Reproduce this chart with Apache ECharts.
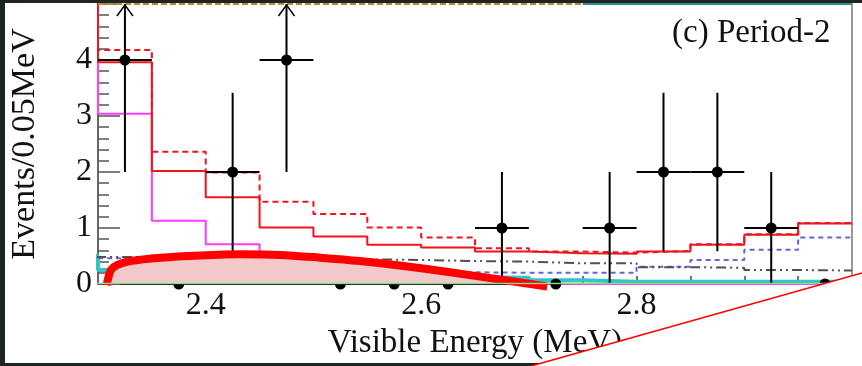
<!DOCTYPE html>
<html>
<head>
<meta charset="utf-8">
<script src="https://cdn.jsdelivr.net/npm/echarts@6/dist/echarts.min.js"></script>
<style>
  html, body { margin: 0; padding: 0; background: #1e2325; }
  #chart { width: 862px; height: 366px; }
</style>
</head>
<body>
<div id="chart"></div>
<script>
// Histogram bins: lower edges (MeV), 0.05 MeV wide
const binLow = [2.30, 2.35, 2.40, 2.45, 2.50, 2.55, 2.60, 2.65, 2.70, 2.75, 2.80, 2.85, 2.90, 2.95];
const binEnd = 3.00;
const binBelow = 2.25;   // the bin just left of the frame

// Model components (events / 0.05 MeV)
const totalFit   = [3.96, 2.02, 1.55, 1.01, 0.85, 0.70, 0.65, 0.58, 0.55, 0.54, 0.58, 0.70, 0.88, 1.08];
const totalLimit = [4.18, 2.36, 1.99, 1.47, 1.25, 1.01, 0.83, 0.64, 0.58, 0.56, 0.59, 0.71, 0.89, 1.09];
const xeTwoNu    = [3.04, 1.13, 0.71, 0.40, 0.18, 0.07, 0.03, 0.01, 0.00, 0.00, 0.00, 0.00, 0.00, 0.00];
const carbon10   = [0.46, 0.38, 0.33, 0.29, 0.26, 0.23, 0.21, 0.20, 0.20, 0.20, 0.31, 0.43, 0.61, 0.83];
const external   = [0.48, 0.47, 0.46, 0.45, 0.44, 0.43, 0.41, 0.40, 0.37, 0.37, 0.30, 0.29, 0.25, 0.24];
const bismuth    = [0.25, 0.22, 0.19, 0.17, 0.15, 0.14, 0.12, 0.11, 0.065, 0.04, 0.04, 0.04, 0.04, 0.04];
const minorBkg   = [0.01, 0.01, 0.01, 0.01, 0.01, 0.01, 0.01, 0.01, 0.01, 0.01, 0.01, 0.01, 0.01, 0.01];
// value of each component in the bin below the frame
const belowFrame = { totalFit: 9, totalLimit: 9, xeTwoNu: 8, carbon10: 0.46, external: 0.48, bismuth: 0.5, minorBkg: 0.01 };

// Observed events per bin (bin centres)
const dataCenters = [2.325, 2.375, 2.425, 2.475, 2.525, 2.575, 2.625, 2.675, 2.725, 2.775, 2.825, 2.875, 2.925, 2.975];
const dataCounts  = [4, 0, 2, 4, 0, 0, 0, 1, 0, 1, 2, 2, 1, 0];

// Highlight around the region of interest (energy, events)
const roiCurve = [
  [2.308, -0.02], [2.310, 0.14], [2.312, 0.25], [2.318, 0.34], [2.330, 0.41],
  [2.358, 0.47], [2.395, 0.51], [2.432, 0.53], [2.469, 0.52], [2.506, 0.47],
  [2.543, 0.41], [2.580, 0.33], [2.627, 0.21], [2.673, 0.08], [2.717, -0.045]
];

// Axis ticks and labels
const xLabelValues = [2.4, 2.6, 2.8];
const xTickValues = [2.35, 2.40, 2.45, 2.50, 2.55, 2.60, 2.65, 2.70, 2.75, 2.80, 2.85, 2.90, 2.95];
const yMin = 0, yMax = 5, yStep = 1;

const SERIF = '"Liberation Serif", "DejaVu Serif", serif';

// step-histogram points: value at each lower edge, last value repeated at the end
function stepData(values, below) {
  const pts = [[binBelow, below]];
  binLow.forEach((x, i) => pts.push([x, values[i]]));
  pts.push([binEnd, values[values.length - 1]]);
  return pts;
}

function hist(name, values, below, color, width, type, z) {
  return {
    name, type: 'line', step: 'end', data: stepData(values, below),
    symbol: 'none', clip: true, z: z || 3,
    lineStyle: { color, width, type: type || 'solid' },
    emphasis: { disabled: true }, silent: true
  };
}

const chart = echarts.init(document.getElementById('chart'), null, { renderer: 'canvas' });

const option = {
  backgroundColor: '#1e2325',
  animation: false,
  grid: { left: 98, right: 10, top: 4, bottom: 82, containLabel: false },
  title: {
    text: '(c) Period-2', left: 667, top: 12,
    textStyle: { fontFamily: SERIF, fontSize: 33, fontWeight: 'normal', color: '#111' }
  },
  xAxis: {
    type: 'value', min: 2.3, max: binEnd,
    name: 'Visible Energy (MeV)', nameLocation: 'middle', nameGap: 41,
    nameTextStyle: { fontFamily: SERIF, fontSize: 33, color: '#111' },
    axisLine: { lineStyle: { color: '#111', width: 1 } },
    axisTick: { inside: true, length: 8, customValues: xTickValues, lineStyle: { color: '#444', width: 1.5 } },
    axisLabel: { customValues: xLabelValues, fontFamily: SERIF, fontSize: 32, color: '#111', margin: 6,
                 formatter: v => v.toFixed(1) },
    splitLine: { show: false }
  },
  yAxis: [{
    type: 'value', min: yMin, max: yMax, interval: yStep,
    name: 'Events/0.05MeV', nameLocation: 'middle', nameGap: 56, nameRotate: 90,
    nameTextStyle: { fontFamily: SERIF, fontSize: 34, color: '#111' },
    axisLine: { show: true, lineStyle: { color: '#333', width: 1.5 } },
    axisTick: { inside: true, length: 22, lineStyle: { color: '#555', width: 1.5 } },
    minorTick: { show: true, splitNumber: 5, length: 11, lineStyle: { color: '#555', width: 1.5 } },
    axisLabel: { fontFamily: SERIF, fontSize: 32, color: '#111', margin: 6, showMaxLabel: false },
    splitLine: { show: false }, minorSplitLine: { show: false }
  }, {
    type: 'value', min: yMin, max: yMax, position: 'right',
    axisLine: { show: true, lineStyle: { color: '#9a9a9a', width: 2 } },
    axisTick: { show: false }, axisLabel: { show: false }, splitLine: { show: false }
  }],
  series: [
    hist('Bi', bismuth, belowFrame.bismuth, '#33c4c6', 4, 'solid', 3),
    hist('10C', carbon10, belowFrame.carbon10, '#6464dc', 2, [5, 4], 3),
    hist('external', external, belowFrame.external, '#505050', 2, [10, 4, 2, 4, 2, 4], 3),
    hist('2nu', xeTwoNu, belowFrame.xeTwoNu, '#ff3cff', 2, 'solid', 4),
    hist('limit', totalLimit, belowFrame.totalLimit, '#f0141e', 2, [6, 4], 4),
    hist('fit', totalFit, belowFrame.totalFit, '#f0141e', 2, 'solid', 5),
    {
      // frame top, where the larger components run off the scale
      type: 'line', data: [[2.3, yMax], [2.75, yMax]], symbol: 'none', clip: false, z: 6, silent: true,
      lineStyle: { color: '#c88422', width: 2, type: [6, 3] }
    },
    {
      type: 'line', data: [[2.75, yMax], [binEnd, yMax]], symbol: 'none', clip: false, z: 6, silent: true,
      lineStyle: { color: '#2b8f8f', width: 2 }
    },
    {
      name: 'data', type: 'custom', z: 7, silent: true, clip: false,
      data: dataCenters.map((x, i) => [x, dataCounts[i]]),
      renderItem(params, api) {
        const x = api.value(0), n = api.value(1);
        const c = api.coord([x, n]);
        const halfW = api.size([0.025, 0])[0];
        const area = params.coordSys;
        const line = { stroke: '#000', lineWidth: 2 };
        const kids = [];
        if (n > 0) {
          const err = Math.sqrt(n);
          const hi = api.coord([x, n + err]);
          const lo = api.coord([x, n - err]);
          const top = Math.max(hi[1], area.y);
          kids.push({ type: 'line', shape: { x1: c[0] - halfW, y1: c[1], x2: c[0] + halfW, y2: c[1] }, style: line });
          kids.push({ type: 'line', shape: { x1: c[0], y1: lo[1], x2: c[0], y2: top }, style: line });
          if (hi[1] < area.y) {
            kids.push({ type: 'polyline',
              shape: { points: [[c[0] - 8, area.y + 12], [c[0], area.y + 1], [c[0] + 8, area.y + 12]] },
              style: { stroke: '#000', lineWidth: 1.5, fill: null } });
          }
        }
        kids.push({ type: 'circle', shape: { cx: c[0], cy: c[1], r: 5.5 }, style: { fill: '#000' } });
        return { type: 'group', children: kids };
      }
    },
    {
      name: 'roi', type: 'line', data: roiCurve, smooth: 0.3, symbol: 'none', clip: false, z: 10, silent: true,
      lineStyle: { color: '#ff0000', width: 8, cap: 'butt' },
      areaStyle: { color: '#f2c8c8', opacity: 1, origin: 0 }
    },
    hist('minor', minorBkg, belowFrame.minorBkg, '#8cd98c', 1.5, 'solid', 11)
  ],
  graphic: [
    { type: 'rect', z: -10, silent: true, shape: { x: 5, y: 3, width: 857, height: 360 }, style: { fill: '#ffffff' } },
    { type: 'polygon', z: 100, silent: true,
      shape: { points: [[531, 366], [862, 273], [862, 366]] }, style: { fill: '#ffffff' } },
    { type: 'line', z: 101, silent: true,
      shape: { x1: 531, y1: 366, x2: 862, y2: 273 }, style: { stroke: '#ff0000', lineWidth: 1.6 } }
  ]
};

chart.setOption(option);
</script>
</body>
</html>
